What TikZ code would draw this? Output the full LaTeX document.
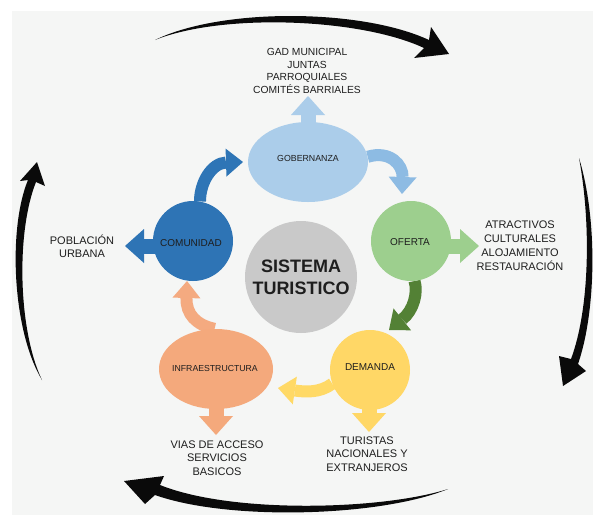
\documentclass[tikz,border=0pt]{standalone}
\usepackage{fontspec}
\setmainfont{Liberation Sans}
\usetikzlibrary{shapes.geometric,arrows.meta,backgrounds}
\definecolor{bgc}{HTML}{F5F6F5}
\definecolor{txtc}{HTML}{1E1E1E}
\definecolor{arcc}{HTML}{0A0A0A}
\definecolor{gobc}{HTML}{ABCDEA}
\definecolor{gobarr}{HTML}{8DBBE3}
\definecolor{ofec}{HTML}{9DCF8E}
\definecolor{ofearr}{HTML}{538135}
\definecolor{demc}{HTML}{FFD766}
\definecolor{demarr}{HTML}{FFD966}
\definecolor{infc}{HTML}{F4A97C}
\definecolor{infarr}{HTML}{F4AA80}
\definecolor{comc}{HTML}{2E74B5}
\definecolor{comarr}{HTML}{2E75B6}
\definecolor{sisc}{HTML}{C9C9C9}
\begin{document}
\begin{tikzpicture}[x=1pt,y=-1pt,
  side/.style={text=txtc, align=center, inner sep=0pt, font=\fontsize{11}{13.4}\selectfont},
  inlbl/.style={text=txtc, inner sep=0pt},
  blob/.style={inner sep=0pt, draw=none},
  blk/.style={line width=15pt, -{Triangle[width=34pt,length=19pt,line width=0pt]}},
  crv/.style={line width=12pt, -{Triangle[width=28pt,length=17pt,line width=0pt]}},
  bigarc/.style={fill=arcc, draw=none}]
\useasboundingbox (0,0) rectangle (593,515);

% main nodes
\node[blob, ellipse, fill=gobc, minimum width=120pt, minimum height=80pt] (gob) at (308,162) {};
\node[inlbl, font=\fontsize{8.8}{10}\selectfont] (gobl) at (308,158) {GOBERNANZA};
\node[blob, circle, fill=ofec, minimum size=80pt] (ofe) at (411,241) {};
\node[inlbl, font=\fontsize{10}{12}\selectfont] (ofel) at (410,242) {OFERTA};
\node[blob, circle, fill=demc, minimum size=80pt] (dem) at (370,370) {};
\node[inlbl, font=\fontsize{10}{12}\selectfont] (deml) at (370,367) {DEMANDA};
\node[blob, ellipse, fill=infc, minimum width=114pt, minimum height=80pt] (inf) at (216,369) {};
\node[inlbl, font=\fontsize{8.7}{10}\selectfont] (infl) at (215,368) {INFRAESTRUCTURA};
\node[blob, circle, fill=comc, minimum size=80pt] (com) at (193,241) {};
\node[inlbl, font=\fontsize{10}{12}\selectfont] (coml) at (191,243) {COMUNIDAD};
\node[blob, circle, fill=sisc, minimum size=112pt, align=center, text=txtc,
      font=\bfseries\fontsize{18}{22}\selectfont] (sis) at (301,277) {SISTEMA\\TURISTICO};

% side texts
\node[side, font=\fontsize{10.3}{12.7}\selectfont] (gadt) at (307,71) {GAD MUNICIPAL\\JUNTAS\\PARROQUIALES\\COMITÉS BARRIALES};
\node[side, font=\fontsize{11}{14}\selectfont] (atrt) at (520,246) {ATRACTIVOS\\CULTURALES\\ALOJAMIENTO\\RESTAURACIÓN};
\node[side] (pobt) at (82,246) {POBLACIÓN\\URBANA};
\node[side] (viat) at (217,458) {VIAS DE ACCESO\\SERVICIOS\\BASICOS};
\node[side] (turt) at (367,454) {TURISTAS\\NACIONALES Y\\EXTRANJEROS};

% tips
\coordinate (gtip) at (308,96);
\coordinate (otip) at (479,246);
\coordinate (dtip) at (369,432);
\coordinate (itip) at (216,435);
\coordinate (ctip) at (125,246);
\coordinate (t1) at (402,194);
\coordinate (t2) at (389,330);
\coordinate (t3) at (278,388);
\coordinate (t4) at (187,281);
\coordinate (t5) at (243,162);

\begin{pgfonlayer}{background}
\fill[white] (0,0) rectangle (593,515);
\fill[bgc] (12,11) rectangle (593,515);
\draw[blk, draw=gobc] (gob.center -| gtip) -- (gtip);
\draw[blk, draw=ofec] (ofe.center |- otip) -- (otip);
\draw[blk, draw=demc] (dem.center -| dtip) -- (dtip);
\draw[blk, draw=infc] (inf.center -| itip) -- (itip);
\draw[blk, draw=comc] (com.center |- ctip) -- (ctip);
\draw[crv, draw=gobarr] (gob.5) .. controls (390,150) and (403,165) .. (t1);
\draw[crv, draw=ofearr] (ofe.-85) .. controls (418,292) and (414,310) .. (t2);
\draw[crv, draw=demarr] (dem.200) .. controls (320,393) and (305,392) .. (t3);
\draw[crv, draw=infarr] (inf.92) .. controls (196,325) and (186,314) .. (t4);
\draw[crv, draw=comarr] (com.80) .. controls (200,182) and (212,163) .. (t5);
\end{pgfonlayer}

% big outer arcs
\fill[bigarc] (155,40) .. controls (220,8) and (360,8) .. (429,40) -- (431,27) -- (449,54) -- (414,58) -- (424,48) .. controls (360,18) and (222,13) .. (155,40) -- cycle;
\fill[bigarc] (579,158) .. controls (598,220) and (596,312) .. (578,364) -- (586,371) -- (563,386) -- (559,356) -- (571,359) .. controls (590,308) and (591,222) .. (579,158) -- cycle;
\fill[bigarc] (448,489) .. controls (380,517) and (228,521) .. (155,495) -- (145,504) -- (124,481) -- (164,476) -- (160,485) .. controls (232,514) and (382,510) .. (448,489) -- cycle;
\fill[bigarc] (42,380) .. controls (12,330) and (8,228) .. (28,180) -- (20,181) -- (37,162) -- (45,186) -- (36,182) .. controls (16,232) and (18,330) .. (42,380) -- cycle;
\end{tikzpicture}
\end{document}
